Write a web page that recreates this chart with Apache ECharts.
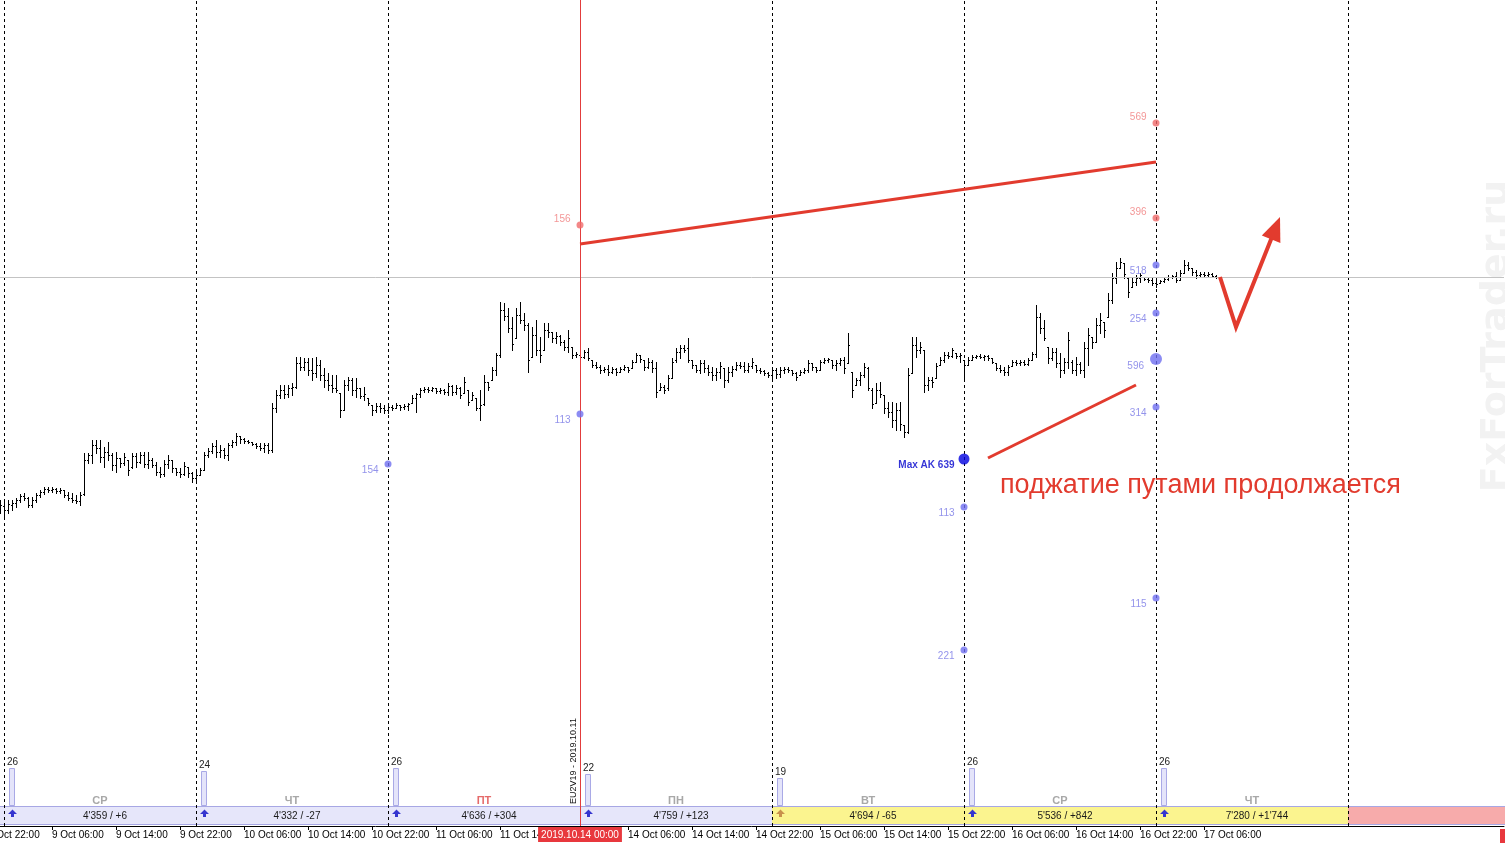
<!DOCTYPE html>
<html>
<head>
<meta charset="utf-8">
<title>EURUSD M30</title>
<script src="https://cdn.jsdelivr.net/npm/echarts@6/dist/echarts.min.js"></script>
<style>
  html, body { margin: 0; padding: 0; background: #fff; }
  #chart { width: 1505px; height: 847px; }
</style>
</head>
<body>
<div id="chart"></div>
<script>
// торговые дни на шкале, выходные пропущены
const days = ['8 Oct', '9 Oct', '10 Oct', '11 Oct', '14 Oct', '15 Oct', '16 Oct', '17 Oct', '18 Oct'];
const firstTime = '8 Oct 22:00';
const firstBar = '8 Oct 23:30';
const lastBar = '17 Oct 07:30';

// бары M30: [open, high, low, close], цена в пунктах
const ohlc = [
  [490,500,487,495],[494,498,482,490],[490,500,487,496],[495,500,490,497],[497,502,493,500],[500,506,498,504],[504,507,500,502],[502,503,493,495],
  [495,503,493,500],[500,507,498,505],[505,510,503,508],[508,513,506,511],[511,513,508,510],[510,513,508,511],[511,512,507,509],[509,512,507,510],
  [510,510,503,505],[505,508,500,502],[502,507,498,500],[500,505,497,499],[499,508,495,505],[506,547,505,540],[540,547,537,545],[545,560,537,555],
  [555,560,547,552],[552,560,538,543],[543,553,533,548],[548,558,540,545],[545,547,530,535],[535,548,528,542],[542,542,533,537],[537,547,535,543],
  [540,540,525,530],[533,547,532,544],[544,547,533,538],[538,548,537,545],[545,548,533,536],[536,548,532,540],[540,542,533,535],[535,538,525,528],
  [528,533,523,526],[526,540,524,536],[536,545,532,540],[540,540,528,532],[532,532,525,528],[528,532,523,526],[526,538,525,534],[533,533,523,527],
  [527,528,518,522],[522,528,520,525],[525,532,525,530],[530,548,530,545],[545,552,543,549],[549,557,547,554],[554,560,543,548],[548,555,543,550],
  [550,552,542,545],[545,557,540,555],[555,560,553,558],[558,567,555,564],[564,564,557,561],[561,562,557,559],[559,560,557,558],[558,558,555,556],
  [556,557,552,554],[554,557,550,552],[552,557,548,555],[555,557,547,550],[550,597,548,592],[592,610,588,605],[605,615,602,610],[610,615,602,606],
  [606,615,603,612],[612,617,605,613],[613,643,612,637],[637,643,630,633],[633,642,630,638],[638,642,625,630],[630,642,620,627],[627,643,623,635],
  [635,640,620,625],[625,632,613,620],[620,627,610,615],[615,625,608,612],[612,625,608,610],[607,607,583,590],[590,620,590,615],[615,623,610,620],
  [620,622,605,610],[610,622,603,612],[612,612,602,604],[604,613,600,606],[602,602,595,597],[595,595,585,590],[590,597,588,594],[594,597,588,592],
  [592,595,587,590],[590,595,587,593],[593,595,590,592],[592,597,592,595],[595,595,590,593],[593,596,591,594],[594,597,590,596],[597,605,597,602],
  [602,607,588,606],[606,612,603,610],[610,613,608,611],[611,613,608,610],[610,613,609,612],[612,612,607,609],[609,612,607,610],[610,611,606,608],
  [608,617,605,614],[614,615,605,608],[608,615,606,612],[612,613,602,605],[607,623,607,618],[610,610,595,598],[600,608,600,605],[602,602,590,592],
  [592,610,580,595],[596,625,595,618],[618,618,610,613],[620,633,620,630],[630,647,625,645],[645,698,643,690],[690,697,680,684],[684,692,668,672],
  [672,683,650,656],[662,692,662,685],[685,698,677,680],[680,687,670,675],[675,677,628,640],[643,673,643,665],[665,680,645,650],[650,663,638,645],
  [650,677,650,670],[670,677,663,668],[668,668,658,662],[662,668,657,664],[664,665,655,658],[658,660,650,653],[653,670,648,662],[653,653,642,645],
  [645,648,643,646],[645,645,642,643],[643,650,642,648],[648,652,640,642],[640,640,633,635],[635,638,632,633],[633,635,627,630],[630,633,628,631],
  [631,635,625,628],[628,633,627,631],[631,632,625,628],[628,633,628,631],[631,635,630,633],[633,633,628,630],[632,640,632,638],[638,647,638,645],
  [645,645,638,641],[640,640,630,633],[633,642,632,638],[638,640,628,632],[632,638,603,608],[610,617,610,613],[613,615,607,610],[612,625,610,622],
  [622,642,622,638],[640,652,638,648],[648,655,642,652],[652,655,648,650],[652,662,638,640],[640,640,632,635],[635,635,628,630],[630,640,627,637],
  [637,640,628,632],[632,635,625,628],[628,633,620,625],[625,632,620,628],[628,638,622,634],[632,632,613,620],[620,633,618,628],[628,634,624,631],
  [631,638,630,635],[635,638,632,634],[634,638,628,630],[630,637,628,634],[634,642,632,638],[635,635,628,630],[630,632,627,629],[629,630,625,627],
  [627,628,623,625],[625,633,622,630],[630,632,622,626],[626,633,623,630],[630,633,627,631],[631,633,628,630],[630,630,625,627],[627,628,620,623],
  [625,630,625,628],[628,632,627,630],[630,640,628,637],[637,637,630,633],[633,633,628,630],[630,640,630,638],[638,642,637,640],[640,642,638,641],
  [640,640,632,635],[635,640,630,637],[637,642,635,640],[640,643,627,632],[637,667,637,655],[628,628,603,610],[615,622,615,620],[620,628,615,625],
  [625,637,623,633],[632,633,610,612],[610,612,592,596],[597,617,597,610],[610,618,603,606],[605,605,587,592],[592,598,583,588],[588,598,573,580],
  [580,597,570,590],[590,598,570,576],[575,575,563,568],[568,632,567,625],[627,663,627,655],[655,663,643,650],[650,658,647,653],[650,650,608,615],
  [615,623,610,620],[620,623,613,618],[622,637,622,634],[635,643,635,640],[640,648,638,645],[645,648,642,644],[644,652,643,650],[647,647,642,644],
  [644,647,638,645],[640,640,622,635],[635,643,635,640],[640,645,640,643],[643,645,642,644],[644,646,642,643],[643,645,640,644],[644,645,640,642],
  [642,642,637,638],[637,637,630,632],[632,635,628,630],[630,633,625,628],[628,635,625,633],[634,640,634,638],[638,640,635,637],[637,640,635,638],
  [638,640,635,636],[636,642,635,640],[640,648,640,646],[646,695,643,683],[683,687,667,672],[672,680,660,662],[653,653,637,642],[642,652,640,648],
  [648,652,633,637],[637,647,623,630],[630,642,627,638],[638,668,632,660],[638,640,627,630],[630,643,625,636],[636,638,627,630],[630,658,623,652],
  [652,672,635,665],[663,663,652,658],[658,682,658,675],[675,687,667,680],[678,678,663,670],[683,707,683,700],[700,727,697,722],[722,738,717,732],
  [732,742,732,738],[737,737,722,726],[722,722,703,708],[713,722,713,718],[718,725,715,722],[722,727,718,725],[723,723,720,721],[721,723,718,720],
  [720,723,715,717],[717,720,713,716],[717,720,717,719],[719,723,718,721],[721,725,720,723],[723,725,722,724],[724,728,718,720],[720,730,720,727],
  [727,740,727,735],[735,738,730,732],[732,732,725,728],[728,730,722,725],[725,728,723,726],[726,728,723,725],[725,728,723,726],[726,727,723,724],
  [724,725,722,723]
];
const lastPrice = 723;

// дневная панель
const dayKeys = ['9 Oct', '10 Oct', '11 Oct', '14 Oct', '15 Oct', '16 Oct', '17 Oct'];
const dayNames = ['СР', 'ЧТ', 'ПТ', 'ПН', 'ВТ', 'СР', 'ЧТ'];
const dayStats = ["4'359 / +6", "4'332 / -27", "4'636 / +304", "4'759 / +123", "4'694 / -65", "5'536 / +842", "7'280 / +1'744"];
const dayCounts = [26, 24, 26, 22, 19, 26, 26];
const dayFlag = ['up', 'up', 'up', 'up', 'warn', 'up', 'up'];
const zoneStart = ['8 Oct 23:30', '15 Oct 00:00', '18 Oct 00:00'];
const zoneEnd = ['15 Oct 00:00', '18 Oct 00:00', '18 Oct 19:30'];
const zoneKind = ['old', 'new', 'future'];

// уровни опционов: время, цена, подпись, тип
const levels = [
  ['14 Oct 00:00', 775, '156', 'call'],
  ['17 Oct 00:00', 877, '569', 'call'],
  ['17 Oct 00:00', 782, '396', 'call'],
  ['11 Oct 00:00', 536, '154', 'put'],
  ['14 Oct 00:00', 586, '113', 'put'],
  ['16 Oct 00:00', 493, '113', 'put'],
  ['16 Oct 00:00', 350, '221', 'put'],
  ['17 Oct 00:00', 735, '518', 'put'],
  ['17 Oct 00:00', 687, '254', 'put'],
  ['17 Oct 00:00', 641, '596', 'putBig'],
  ['17 Oct 00:00', 593, '314', 'put'],
  ['17 Oct 00:00', 402, '115', 'put'],
  ['16 Oct 00:00', 541, 'Max AK 639', 'max']
];

// ручная разметка
const trendUpper = [['14 Oct 00:00', 756], ['17 Oct 00:00', 838]];
const trendLower = [['16 Oct 03:00', 542], ['16 Oct 21:30', 615]];
const forecast = [['17 Oct 08:00', 723], ['17 Oct 10:00', 673], ['17 Oct 15:30', 783]];

// категории по 30 минут
const times = [];
days.forEach(d => {
  for (let h = 0; h < 24; h++) {
    ['00', '30'].forEach(m => times.push(d + ' ' + String(h).padStart(2, '0') + ':' + m));
  }
});
const t0 = times.indexOf(firstTime);
const cats = times.slice(t0, t0 + 380);
const idxOf = t => cats.indexOf(t);
const lastIdx = idxOf(lastBar);
const showTime = i => i % 16 === 0 && i <= lastIdx;

const RED = '#e23b2e';
const FONT = '"Liberation Sans", Arial, sans-serif';

const barData = ohlc.map((b, k) => [k + idxOf(firstBar), b[0], b[1], b[2], b[3]]);

function renderBar(params, api) {
  const i = api.value(0);
  const x = Math.round(api.coord([i, 0])[0]) + 0.5;
  const yo = Math.round(api.coord([i, api.value(1)])[1]) + 0.5;
  const yh = Math.round(api.coord([i, api.value(2)])[1]);
  const yl = Math.round(api.coord([i, api.value(3)])[1]) + 1;
  const yc = Math.round(api.coord([i, api.value(4)])[1]) + 0.5;
  const st = { stroke: '#000', lineWidth: 1 };
  return {
    type: 'group',
    children: [
      { type: 'line', shape: { x1: x, y1: yh, x2: x, y2: yl }, style: st },
      { type: 'line', shape: { x1: x - 1.5, y1: yo, x2: x, y2: yo }, style: st },
      { type: 'line', shape: { x1: x, y1: yc, x2: x + 1.5, y2: yc }, style: st }
    ]
  };
}

const zoneColor = { old: '#e6e6fa', 'new': '#fbf48f', future: '#f7abab' };
function renderZone(params, api) {
  const a = api.coord([api.value(0), 0]);
  const b = api.coord([api.value(1), 0]);
  const y = Math.round(a[1]);
  const kind = zoneKind[params.dataIndex];
  const x0 = params.dataIndex === 0 ? a[0] - 4 : a[0];
  const x1 = params.dataIndex === zoneKind.length - 1 ? b[0] + 4 : b[0];
  return {
    type: 'group',
    children: [
      { type: 'rect', shape: { x: x0, y: y, width: x1 - x0, height: 19 }, style: { fill: zoneColor[kind] } },
      { type: 'line', shape: { x1: x0, y1: y + 0.5, x2: x1, y2: y + 0.5 }, style: { stroke: '#a7a7e4', lineWidth: 1 } },
      { type: 'line', shape: { x1: x0, y1: y + 18.5, x2: x1, y2: y + 18.5 }, style: { stroke: '#a7a7e4', lineWidth: 1 } }
    ]
  };
}

function arrowPts(cx, top) {
  return [[cx, top], [cx + 4.5, top + 4.5], [cx + 1.5, top + 4.5], [cx + 1.5, top + 7.5],
          [cx - 1.5, top + 7.5], [cx - 1.5, top + 4.5], [cx - 4.5, top + 4.5]];
}

function renderDay(params, api) {
  const k = params.dataIndex;
  const i = api.value(0);
  const base = api.coord([i, 0]);
  const top = Math.round(api.coord([i, api.value(1)])[1]);
  const mid = api.coord([i + 24, 0])[0];
  const xs = Math.round(base[0]);
  const yb = Math.round(base[1]);
  return {
    type: 'group',
    children: [
      { type: 'rect', shape: { x: xs + 5.5, y: top + 0.5, width: 5, height: yb - top - 1 },
        style: { fill: '#e4e4fa', stroke: '#a9a9e6', lineWidth: 1 } },
      { type: 'text', x: xs + 3, y: top - 1,
        style: { text: String(dayCounts[k]), fill: '#222', font: '10px ' + FONT, align: 'left', verticalAlign: 'bottom' } },
      { type: 'text', x: mid, y: yb - 5,
        style: { text: dayNames[k], fill: dayNames[k] === 'ПТ' ? '#e56a6a' : '#a8a8a8', font: 'bold 11px ' + FONT, align: 'center', verticalAlign: 'middle' } },
      { type: 'text', x: mid + 5, y: yb + 10,
        style: { text: dayStats[k], fill: '#1a1a1a', font: '10px ' + FONT, align: 'center', verticalAlign: 'middle' } },
      { type: 'polygon', shape: { points: arrowPts(xs + 8.5, yb + 3.5) },
        style: { fill: dayFlag[k] === 'warn' ? '#c9914c' : '#3535cf' } }
    ]
  };
}

function renderNotes(params, api) {
  const p = a => api.coord([idxOf(a[0]), a[1]]);
  const up = trendUpper.map(p);
  const lo = trendLower.map(p);
  const v = forecast.map(p);
  const tip = v[v.length - 1], prev = v[v.length - 2];
  const dx = tip[0] - prev[0], dy = tip[1] - prev[1];
  const len = Math.hypot(dx, dy);
  const ux = dx / len, uy = dy / len;
  const hl = 24, hw = 10;
  const bx = tip[0] - ux * hl, by = tip[1] - uy * hl;
  const shaft = v.slice(0, -1).concat([[bx + ux * 4, by + uy * 4]]);
  return {
    type: 'group',
    children: [
      { type: 'polyline', shape: { points: up }, style: { stroke: RED, lineWidth: 3, fill: null } },
      { type: 'polyline', shape: { points: lo }, style: { stroke: RED, lineWidth: 3, fill: null } },
      { type: 'polyline', shape: { points: shaft }, style: { stroke: RED, lineWidth: 4, fill: null, lineJoin: 'miter' } },
      { type: 'polygon', shape: { points: [[tip[0], tip[1]], [bx - uy * hw, by + ux * hw], [bx + uy * hw, by - ux * hw]] },
        style: { fill: RED } }
    ]
  };
}

const levelStyle = {
  call:   { dot: '#f06a6a', text: '#f07c7c', size: 7,  dy: -6, weight: 'normal' },
  put:    { dot: '#6f6ff0', text: '#7878e6', size: 7,  dy: 6,  weight: 'normal' },
  putBig: { dot: '#6f6ff0', text: '#7878e6', size: 12, dy: 7,  weight: 'normal' },
  max:    { dot: '#0000e0', text: '#0000cc', size: 11, dy: 6,  weight: 'bold' }
};
const levelData = levels.map(l => {
  const s = levelStyle[l[3]];
  return {
    value: [idxOf(l[0]), l[1]],
    symbolSize: s.size,
    itemStyle: { color: s.dot },
    label: {
      show: true, position: 'left', distance: l[3] === 'max' ? 4 : 6, offset: [0, s.dy],
      formatter: l[2], color: s.text, fontSize: 10, fontWeight: s.weight, fontFamily: FONT
    }
  };
});

const dashed = { color: '#000', width: 1, type: [3, 3] };
const sepLines = dayKeys.filter(d => d !== '14 Oct').concat(['18 Oct'])
  .map(d => ({ xAxis: d + ' 00:00', lineStyle: dashed }));

const redLine = { color: '#e23c3c', width: 1, type: 'solid', opacity: 1 };

const chart = echarts.init(document.getElementById('chart'));
chart.setOption({
  animation: false,
  backgroundColor: '#fff',
  grid: [
    { left: -12, right: 1, top: 0, bottom: 21, containLabel: false, outerBoundsMode: 'none' },
    { left: -12, right: 1, top: 740, bottom: 41, containLabel: false, outerBoundsMode: 'none' }
  ],
  xAxis: [
    {
      type: 'category', gridIndex: 0, data: cats, boundaryGap: false,
      axisLine: { lineStyle: { color: '#000', width: 1 } },
      axisTick: { interval: showTime, length: 4, lineStyle: { color: '#000' } },
      axisLabel: { interval: showTime, align: 'left', margin: 4, color: '#000', fontSize: 10, fontFamily: FONT },
      splitLine: { show: false }
    },
    { type: 'category', gridIndex: 1, data: cats, boundaryGap: false, show: false }
  ],
  yAxis: [
    { type: 'value', gridIndex: 0, min: 174, max: 1000, show: false },
    { type: 'value', gridIndex: 1, min: 0, max: 45, show: false }
  ],
  graphic: [
    { type: 'text', x: 1497, y: 336, rotation: Math.PI / 2, z: -10,
      style: { text: 'FxForTrader.ru', fill: '#f2f2f2', font: 'bold 38px "DejaVu Sans"', align: 'center', verticalAlign: 'middle' } },
    { type: 'text', left: 1000, top: 472, z: 100,
      style: { text: 'поджатие путами продолжается', fill: RED, font: '27px ' + FONT } },
    { type: 'rect', shape: { x: 1500, y: 829, width: 6, height: 14 }, z: 100, style: { fill: '#e8383d' } }
  ],
  series: [
    {
      name: 'separators', type: 'line', data: [], z: 1,
      markLine: {
        silent: true, symbol: ['none', 'none'], animation: false,
        label: { show: false },
        data: sepLines.concat([{ yAxis: lastPrice, lineStyle: { color: '#c3c3c3', width: 1, type: 'solid' } }])
      }
    },
    {
      name: 'EURUSD', type: 'custom', xAxisIndex: 0, yAxisIndex: 0, z: 2,
      renderItem: renderBar, data: barData, encode: { x: 0, y: [1, 2, 3, 4] }
    },
    {
      name: 'zones', type: 'custom', xAxisIndex: 1, yAxisIndex: 1, z: 3,
      renderItem: renderZone,
      data: zoneStart.map((s, k) => [idxOf(s), idxOf(zoneEnd[k])])
    },
    {
      name: 'days', type: 'custom', xAxisIndex: 1, yAxisIndex: 1, z: 4,
      renderItem: renderDay,
      data: dayKeys.map((d, k) => [idxOf(d + ' 00:00'), dayCounts[k]])
    },
    {
      name: 'levels', type: 'scatter', xAxisIndex: 0, yAxisIndex: 0, z: 5,
      data: levelData
    },
    {
      name: 'expiry', type: 'line', data: [], z: 6, color: '#e23c3c',
      markLine: {
        silent: true, symbol: ['none', 'none'], animation: false,
        lineStyle: redLine,
        data: [
          { xAxis: '14 Oct 00:00', lineStyle: redLine,
            label: { show: true, position: 'start', formatter: '2019.10.14 00:00', color: '#fff',
                     backgroundColor: '#e8383d', padding: [3, 3, 2, 3], fontSize: 10, fontFamily: FONT, distance: 1 } },
          { xAxis: '14 Oct 00:00', lineStyle: redLine,
            label: { show: true, position: 'insideStartTop', formatter: 'EU2V19 - 2019.10.11', color: '#111',
                     fontSize: 9, fontFamily: FONT, distance: [22, 2] } }
        ]
      }
    },
    {
      name: 'notes', type: 'custom', xAxisIndex: 0, yAxisIndex: 0, z: 7,
      renderItem: renderNotes, data: [[0, 0]]
    }
  ]
});
</script>
</body>
</html>
